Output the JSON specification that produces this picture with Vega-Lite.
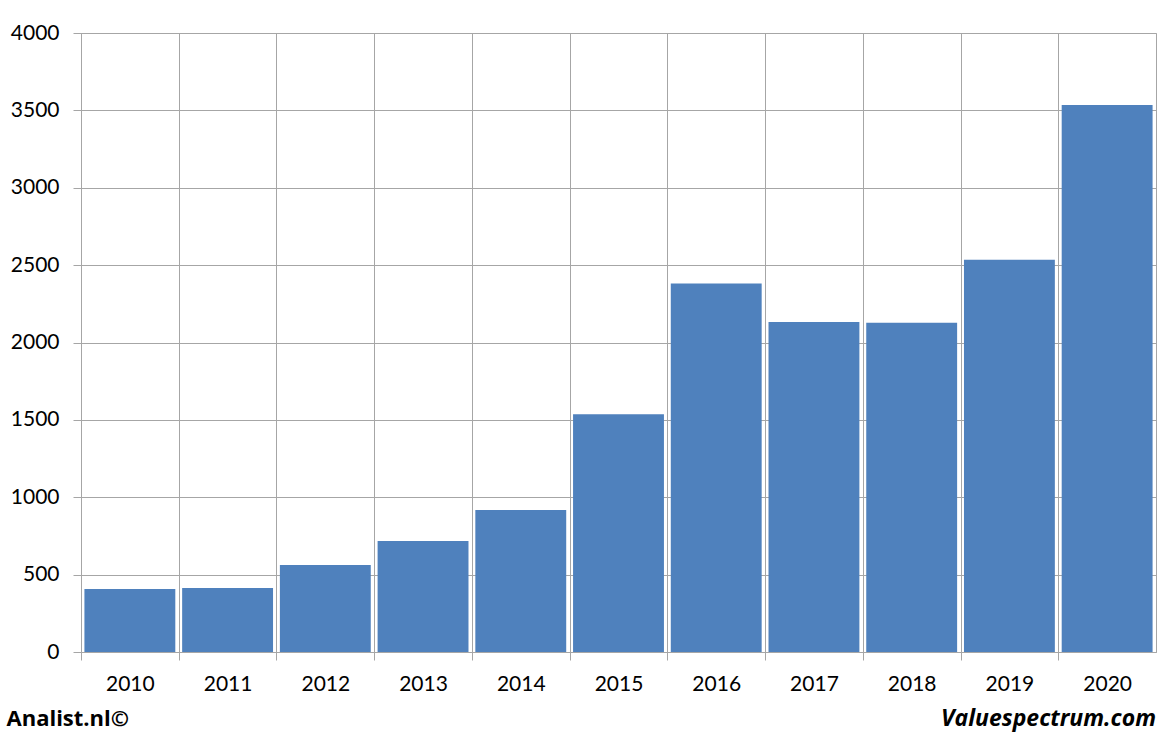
{
  "$schema": "https://vega.github.io/schema/vega-lite/v6.json",
  "width": 1075,
  "height": 619,
  "autosize": {"type": "none"},
  "padding": {"left": 81, "top": 33, "right": 16, "bottom": 82},
  "background": "white",
  "config": {
    "view": {"stroke": "#a6a6a6", "strokeWidth": 1},
    "font": "Lato"
  },
  "title": {
    "text": "Valuespectrum.com",
    "orient": "bottom",
    "anchor": "end",
    "frame": "group",
    "fontSize": 23,
    "fontWeight": "bold",
    "fontStyle": "italic",
    "font": "Open Sans",
    "color": "black",
    "offset": 0,
    "dy": -21
  },
  "data": {
    "values": [
      {"year": "2010", "value": 407},
      {"year": "2011", "value": 414},
      {"year": "2012", "value": 562},
      {"year": "2013", "value": 717},
      {"year": "2014", "value": 918},
      {"year": "2015", "value": 1537},
      {"year": "2016", "value": 2381},
      {"year": "2017", "value": 2133},
      {"year": "2018", "value": 2127},
      {"year": "2019", "value": 2534},
      {"year": "2020", "value": 3534}
    ]
  },
  "mark": {"type": "bar", "color": "#4f81bd"},
  "encoding": {
    "x": {
      "field": "year",
      "type": "ordinal",
      "scale": {"paddingInner": 0.07, "paddingOuter": 0.035},
      "axis": {
        "title": "Analist.nl©",
        "titleX": -75,
        "titleY": 66,
        "titleAlign": "left",
        "titleBaseline": "middle",
        "titleFont": "Open Sans",
        "titleFontSize": 22,
        "titleFontWeight": "bold",
        "titleColor": "black",
        "labelAngle": 0,
        "labelFontSize": 21,
        "labelColor": "black",
        "labelPadding": 13,
        "bandPosition": 0,
        "tickOffset": -3.4,
        "labelOffset": 3.4,
        "grid": true,
        "gridColor": "#a6a6a6",
        "gridOpacity": 1,
        "tickColor": "#a6a6a6",
        "tickSize": 8,
        "domainColor": "#a6a6a6"
      }
    },
    "y": {
      "field": "value",
      "type": "quantitative",
      "scale": {"domain": [0, 4000], "nice": false},
      "axis": {
        "title": null,
        "values": [0, 500, 1000, 1500, 2000, 2500, 3000, 3500, 4000],
        "format": "d",
        "labelFontSize": 21,
        "labelColor": "black",
        "labelPadding": 14,
        "grid": true,
        "gridColor": "#a6a6a6",
        "gridOpacity": 1,
        "tickColor": "#a6a6a6",
        "tickSize": 8,
        "domainColor": "#a6a6a6"
      }
    }
  }
}
